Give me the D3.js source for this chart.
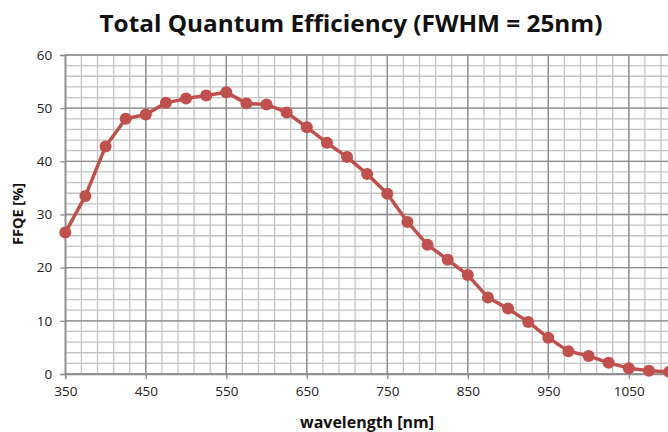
<!DOCTYPE html>
<html><head><meta charset="utf-8">
<script src="https://cdn.jsdelivr.net/npm/d3@7"></script>
<style>body{margin:0;background:#fff}svg{display:block}</style>
</head><body><svg id="c" width="668" height="432"></svg>
<script>
const wavelengths = [350,375,400,425,450,475,500,525,550,575,600,625,650,675,700,725,750,775,800,825,850,875,900,925,950,975,1000,1025,1050,1075,1100];
const ffqe = [26.6,33.5,42.8,48.0,48.8,51.0,51.8,52.4,53.0,50.9,50.7,49.2,46.4,43.5,40.8,37.6,33.9,28.6,24.3,21.5,18.6,14.4,12.3,9.8,6.8,4.3,3.4,2.1,1.1,0.6,0.4];
const xTicks = [350,450,550,650,750,850,950,1050];
const yTicks = [0,10,20,30,40,50,60];
const title = "Total Quantum Efficiency (FWHM = 25nm)";
const xTitle = "wavelength [nm]";
const yTitle = "FFQE [%]";

const svg = d3.select("#c");
const x = d3.scaleLinear().domain([350,1150]).range([65.3,709.3]);
const y = d3.scaleLinear().domain([0,60]).range([374,55]);
const font = "'Open Sans', sans-serif";

// minor grid
const gx = svg.append("g");
d3.range(350,1151,20).forEach(v=>{
  gx.append("line").attr("x1",x(v)).attr("x2",x(v)).attr("y1",y(0)).attr("y2",y(60))
    .attr("stroke","#c4c4c4").attr("stroke-width",1.3);
});
d3.range(0,61,2).forEach(v=>{
  gx.append("line").attr("x1",x(350)).attr("x2",668).attr("y1",y(v)).attr("y2",y(v))
    .attr("stroke","#c4c4c4").attr("stroke-width",1.3);
});
// major grid
d3.range(350,1151,100).forEach(v=>{
  gx.append("line").attr("x1",x(v)).attr("x2",x(v)).attr("y1",y(0)).attr("y2",y(60))
    .attr("stroke","#8c8c8c").attr("stroke-width",1.3);
});
yTicks.forEach(v=>{
  gx.append("line").attr("x1",x(350)).attr("x2",668).attr("y1",y(v)).attr("y2",y(v))
    .attr("stroke","#8c8c8c").attr("stroke-width",1.3);
});

// axes
const xAxis = d3.axisBottom(x).tickValues(xTicks).tickSize(5).tickPadding(7).tickFormat(d3.format("d"));
const yAxis = d3.axisLeft(y).tickValues(yTicks).tickSize(5).tickPadding(8);
const ax = svg.append("g").attr("transform",`translate(0,${y(0)})`).call(xAxis);
const ay = svg.append("g").attr("transform",`translate(${x(350)},0)`).call(yAxis);
[ax,ay].forEach(a=>{
  a.select(".domain").attr("stroke","#8c8c8c").attr("stroke-width",1.3);
  a.selectAll(".tick line").attr("stroke","#8c8c8c").attr("stroke-width",1.3);
  a.selectAll("text").attr("font-family",font).attr("font-size",13.5).attr("fill","#222");
});

// line & markers
const line = d3.line().x((d,i)=>x(wavelengths[i])).y(d=>y(d));
svg.append("path").datum(ffqe).attr("d",line).attr("fill","none")
  .attr("stroke","#c0504d").attr("stroke-width",3.5).attr("stroke-linejoin","round");
svg.append("g").selectAll("circle").data(ffqe).join("circle")
  .attr("cx",(d,i)=>x(wavelengths[i])).attr("cy",d=>y(d)).attr("r",6).attr("fill","#c0504d");

// titles
svg.append("text").attr("x",351).attr("y",32).attr("text-anchor","middle")
  .attr("font-family",font).attr("font-weight","bold").attr("font-size",24)
  .attr("textLength",503).attr("lengthAdjust","spacingAndGlyphs").attr("fill","#111").text(title);
svg.append("text").attr("x",367).attr("y",428).attr("text-anchor","middle")
  .attr("font-family",font).attr("font-weight","bold").attr("font-size",15.5)
  .attr("textLength",134).attr("lengthAdjust","spacingAndGlyphs").attr("fill","#111").text(xTitle);
svg.append("text").attr("transform","translate(23,214) rotate(-90)").attr("text-anchor","middle")
  .attr("font-family",font).attr("font-weight","bold").attr("font-size",14.5)
  .attr("fill","#111").text(yTitle);
</script></body></html>
